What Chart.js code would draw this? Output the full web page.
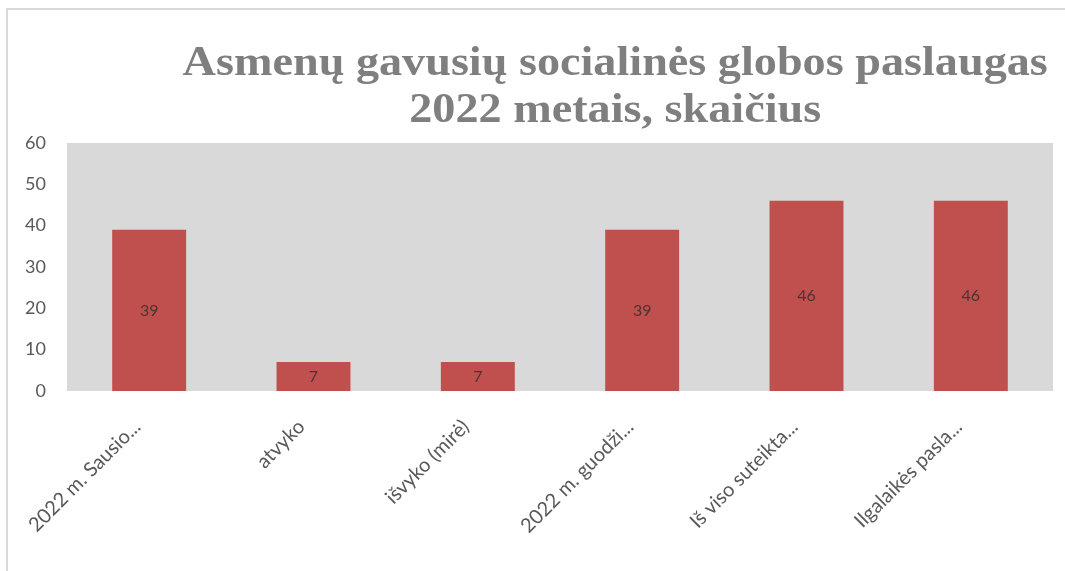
<!DOCTYPE html>
<html>
<head>
<meta charset="utf-8">
<script src="https://cdn.jsdelivr.net/npm/chart.js@4.4.1/dist/chart.umd.min.js"></script>
<style>
  html, body { margin: 0; padding: 0; background: #ffffff; }
  #wrap { position: relative; width: 1065px; height: 571px; overflow: hidden; }
  #frame { position: absolute; left: 6px; top: 8px; right: -10px; bottom: -10px;
           border-left: 2px solid #d9d9d9; border-top: 2px solid #d9d9d9; pointer-events: none; }
  canvas { position: absolute; left: 0; top: 0; }
</style>
</head>
<body>
<div id="wrap">
  <canvas id="c" width="1065" height="571"></canvas>
  <div id="frame"></div>
</div>
<script>
const titleLines = ["Asmenų gavusių socialinės globos paslaugas", "2022 metais, skaičius"];
const categories = ["2022 m. Sausio...", "atvyko", "išvyko (mirė)", "2022 m. guodži...", "Iš viso suteikta...", "Ilgalaikės pasla..."];
const values = [39, 7, 7, 39, 46, 46];
const yTicks = [0, 10, 20, 30, 40, 50, 60];

const plotBg = {
  id: 'plotBg',
  beforeDatasetsDraw(chart) {
    const { ctx, chartArea: a } = chart;
    ctx.save();
    ctx.fillStyle = '#d9d9d9';
    ctx.fillRect(a.left, a.top, a.right - a.left, a.bottom - a.top);
    ctx.restore();
  }
};

const valueLabels = {
  id: 'valueLabels',
  afterDatasetsDraw(chart) {
    const { ctx } = chart;
    const meta = chart.getDatasetMeta(0);
    ctx.save();
    ctx.font = '16px Lato, "Open Sans", sans-serif';
    ctx.fillStyle = '#4a3432';
    ctx.textAlign = 'center';
    ctx.textBaseline = 'middle';
    meta.data.forEach((bar, i) => {
      const p = bar.getProps(['x', 'y', 'base'], true);
      ctx.fillText(String(values[i]), p.x, (p.y + p.base) / 2);
    });
    ctx.restore();
  }
};

const titlePlugin = {
  id: 'customTitle',
  afterDraw(chart) {
    const { ctx, chartArea: a } = chart;
    ctx.save();
    ctx.font = 'bold 42px "Liberation Serif", "DejaVu Serif", serif';
    ctx.fillStyle = '#7f7f7f';
    ctx.textAlign = 'center';
    ctx.textBaseline = 'alphabetic';
    const cx = a.left + (a.right - a.left) * 0.556;
    ctx.translate(cx, 0);
    ctx.scale(1.1, 1);
    ctx.fillText(titleLines[0], 0, 75);
    ctx.fillText(titleLines[1], 0, 122);
    ctx.restore();
  }
};

new Chart(document.getElementById('c'), {
  type: 'bar',
  data: {
    labels: categories,
    datasets: [{
      data: values,
      backgroundColor: '#c0504d',
      borderWidth: 0,
      barPercentage: 0.45,
      categoryPercentage: 1.0
    }]
  },
  options: {
    responsive: false,
    animation: false,
    devicePixelRatio: 1,
    layout: { padding: { top: 143, right: 12, left: 0, bottom: 0 } },
    plugins: { legend: { display: false }, title: { display: false }, tooltip: { enabled: false } },
    scales: {
      x: {
        grid: { display: false, drawTicks: false },
        border: { display: false },
        ticks: {
          color: '#595959',
          font: { family: 'Lato, "Open Sans", sans-serif', size: 20 },
          maxRotation: 45, minRotation: 45,
          padding: 24,
          labelOffset: -12,
          autoSkip: false
        },
        afterFit(scale) { scale.height = 180; }
      },
      y: {
        min: 0, max: 60,
        grid: { display: false, drawTicks: false },
        border: { display: false },
        afterBuildTicks(scale) { scale.ticks = yTicks.map(v => ({ value: v })); },
        ticks: {
          color: '#595959',
          font: { family: 'Lato, "Open Sans", sans-serif', size: 18 },
          padding: 21
        },
        afterFit(scale) { scale.width = 67; }
      }
    }
  },
  plugins: [plotBg, valueLabels, titlePlugin]
});
</script>
</body>
</html>
